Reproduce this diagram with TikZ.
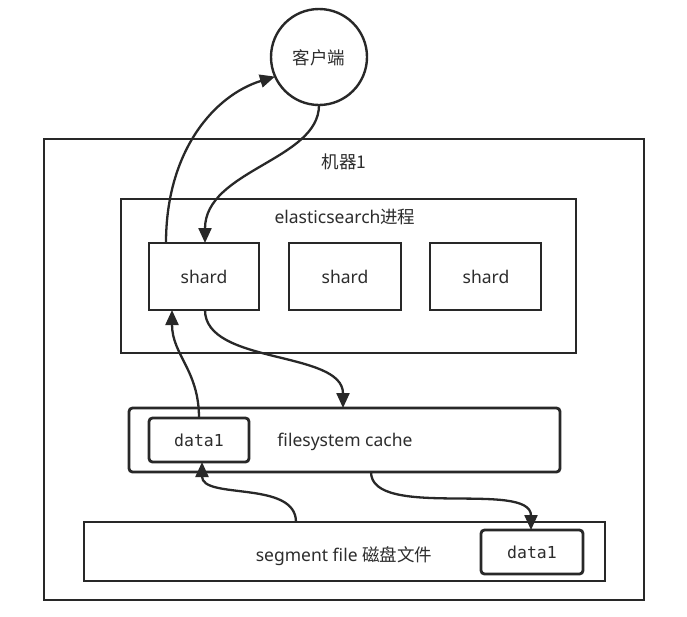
\documentclass[tikz,border=0pt]{standalone}
\usepackage{fontspec}
\setmainfont{Noto Sans}
\newfontfamily\cjk{Noto Sans CJK SC}
\newfontfamily\monof{DejaVu Sans Mono}
\usetikzlibrary{arrows.meta,calc}
\definecolor{ink}{RGB}{40,40,40}
\definecolor{txt}{RGB}{45,45,45}
\begin{document}
\begin{tikzpicture}[x=1pt,y=-1pt,
  box/.style={draw=ink,line width=2.8pt,inner sep=0pt},
  rbox/.style={draw=ink,line width=2.8pt,rounded corners=3.5pt},
  lbl/.style={text=txt,font=\fontsize{17.5}{20}\selectfont,inner sep=0pt},
  mlbl/.style={text=txt,font=\monof\fontsize{16.5}{19}\selectfont,inner sep=0pt},
  conn/.style={draw=ink,line width=2.3pt,-{Triangle[length=15pt,width=13pt]}}]
\useasboundingbox (0,0) rectangle (687,616);
\fill[white] (0,0) rectangle (687,616);
% boxes
\draw[box] (44,139) rectangle (644,600);
\draw[box] (121,199) rectangle (576,353);
\draw[box] (149,243) rectangle (259,310);
\draw[box] (289,243) rectangle (401,310);
\draw[box] (430,243) rectangle (541,310);
\draw[rbox] (129,408) rectangle (560,472);
\draw[rbox] (149,418) rectangle (249,462);
\draw[box] (84,522) rectangle (605,581);
\draw[rbox] (481,530) rectangle (583,574);
\draw[ink,line width=2.4pt] (319,57) circle (48);
% named points
\node[inner sep=0pt,minimum size=96pt,circle] (cl) at (319,57) {};
\coordinate (s1top) at (166,243);
\coordinate (s1topb) at (205,243);
\coordinate (s1bot) at (205,310);
\coordinate (s1botb) at (172,310);
\coordinate (cachetop) at (343,408);
\coordinate (cachebot) at (371,472);
\coordinate (d1top) at (199,418);
\coordinate (d1bot) at (202,462);
\coordinate (segtop) at (296,522);
\coordinate (d2top) at (531,530);
% labels
\node[lbl] (client) at (319,58) {\cjk 客户端};
\node[lbl] (m1) at (344,162) {\cjk 机器1};
\node[lbl] (es) at (345,217) {elasticsearch{\cjk 进程}};
\node[lbl] (sh1) at (204,277) {shard};
\node[lbl] (sh2) at (345,277) {shard};
\node[lbl] (sh3) at (486,277) {shard};
\node[lbl] (fc) at (345,442) {filesystem cache};
\node[mlbl] (dc) at (199,440) {data1};
\node[lbl] (sf) at (344,556) {segment file {\cjk 磁盘文件}};
\node[mlbl] (dd) at (532,552) {data1};
% connectors
\draw[conn] (s1top) .. controls (166,150) and (215,95) .. (cl.204);
\draw[conn] (cl.south) .. controls (319,160) and (205,170) .. (s1topb);
\draw[conn] (s1bot) .. controls (205,365) and (343,350) .. (cachetop);
\draw[conn] (d1top) .. controls (199,370) and (172,355) .. (s1botb);
\draw[conn] (cachebot) .. controls (371,520) and (531,480) .. (d2top);
\draw[conn] (segtop) .. controls (296,480) and (202,500) .. (d1bot);
\end{tikzpicture}
\end{document}
